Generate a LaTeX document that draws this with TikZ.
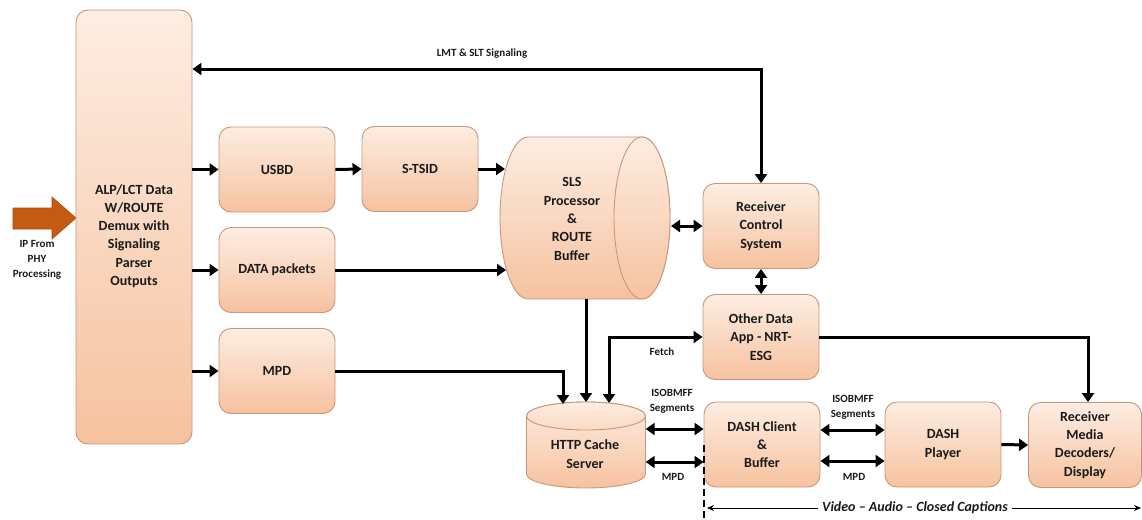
\documentclass[tikz,border=0pt]{standalone}
\usepackage{fontspec}
\setmainfont{Carlito}
\usetikzlibrary{arrows.meta,calc}
\definecolor{boxtop}{HTML}{FDEDE2}
\definecolor{boxmid}{HTML}{FAD9C2}
\definecolor{boxbot}{HTML}{F6C29F}
\definecolor{boxline}{HTML}{C8977A}
\definecolor{iporange}{HTML}{C55A11}
\definecolor{iporangeline}{HTML}{A84C0E}
\definecolor{txt}{HTML}{1A1A1A}
\begin{document}
\begin{tikzpicture}[x=1pt,y=-1pt,
  box/.style={draw=boxline, line width=0.9pt, rounded corners=12pt, top color=boxtop, bottom color=boxbot,
    minimum width=116pt, minimum height=85pt, align=center, inner sep=0pt,
    font=\bfseries\fontsize{14}{18.3}\selectfont, text=txt},
  boxtext/.style={align=center, inner sep=0pt, font=\bfseries\fontsize{14}{18.3}\selectfont, text=txt},
  ghost/.style={inner sep=0pt, draw=none},
  shapefill/.style={draw=boxline, line width=0.9pt, top color=boxtop, bottom color=boxbot},
  conn/.style={line width=3pt, -{Triangle[length=9pt,width=12pt]}},
  dconn/.style={line width=3pt, {Triangle[length=9pt,width=12pt]}-{Triangle[length=9pt,width=12pt]}},
  lbl/.style={font=\bfseries\fontsize{11}{15}\selectfont, text=txt, align=center, inner sep=0pt},
]
\useasboundingbox (0,0) rectangle (1142,519);

% ---- orange input arrow
\filldraw[fill=iporange, draw=iporangeline, line width=0.6pt]
  (13,208) -- (52,208) -- (52,197) -- (76,218) -- (52,239) -- (52,229) -- (13,229) -- cycle;
\node[lbl] (iplbl) at (37,260) {IP From\\PHY\\Processing};

% ---- main demux box
\node[box, minimum width=116pt, minimum height=434pt] (alp) at (134,227) {};
\node[boxtext] (alptext) at (134,236) {ALP/LCT Data\\W/ROUTE\\Demux with\\Signaling\\Parser\\Outputs};

% ---- rectangular boxes
\node[box] (usbd)   at (277,169.5) {USBD};
\node[box] (stsid)  at (420,169)   {S-TSID};
\node[box] (data)   at (277,270)   {DATA packets};
\node[box] (mpd)    at (277,371)   {MPD};
\node[box] (rcs)    at (761,226)   {Receiver\\Control\\System};
\node[box] (other)  at (761,337)   {Other Data\\App - NRT-\\ESG};
\node[box] (dash)   at (762,444.5) {DASH Client\\\&\\Buffer};
\node[box] (player) at (943,444.5) {DASH\\Player};
\node[box, minimum width=113pt] (rmd) at (1085,445) {Receiver\\Media\\Decoders/\\Display};

% ---- SLS processor (horizontal cylinder)
\path[shapefill] (528,137) -- (642,137) arc[start angle=-90, end angle=90, x radius=28, y radius=81]
  -- (528,299) arc[start angle=90, end angle=270, x radius=28, y radius=81] -- cycle;
\path[shapefill] (642,218) ellipse[x radius=28, y radius=81];
\node[ghost, minimum width=170pt, minimum height=162pt] (sls) at (585,218) {};
\node[boxtext] (slstext) at (572,219) {SLS\\Processor\\\&\\ROUTE\\Buffer};
\coordinate (slsA) at (505,169);
\coordinate (slsB) at (506,270);
\coordinate (slsR) at (671,226);
\coordinate (slsS) at (586,299);

% ---- HTTP cache (vertical cylinder)
\path[shapefill] (526.5,416) -- (526.5,474) arc[start angle=180, end angle=0, x radius=59.5, y radius=14]
  -- (645.5,416) arc[start angle=0, end angle=-180, x radius=59.5, y radius=14] -- cycle;
\path[draw=boxline, line width=0.9pt, top color=boxtop, bottom color=boxmid] (586,416) ellipse[x radius=59.5, y radius=14];
\node[ghost, minimum width=119pt, minimum height=86pt] (http) at (586,445) {};
\node[boxtext] (httptext) at (585,454) {HTTP Cache\\Server};
\coordinate (httpA) at (563,404);
\coordinate (httpB) at (586,402);
\coordinate (httpC) at (609,403);

% ---- connectors
\draw[dconn] (rcs.north) |- (alp.east |- 0,69);
\node[lbl] (lmtlbl) at (482,54) {LMT \& SLT Signaling};

\draw[conn] (alp.east |- usbd.west) -- (usbd.west);
\draw[conn] (alp.east |- data.west) -- (data.west);
\draw[conn] (alp.east |- mpd.west) -- (mpd.west);
\draw[conn] (usbd.east) -- (stsid.west);
\draw[conn] (stsid.east) -- (slsA);
\draw[conn] (data.east) -- (slsB);
\draw[dconn] (slsR) -- (rcs.west |- slsR);
\draw[dconn] (rcs.south) -- (other.north);
\draw[conn] (slsS) -- (httpB);
\draw[conn] (mpd.east) -| (httpA);
\draw[dconn] (other.west) -| (httpC);
\node[lbl] (fetch) at (662,352) {Fetch};
\draw[conn] (other.east) -| ($(rmd.north)+(3,0)$);

\draw[dconn] (http.east |- 0,429) -- (dash.west |- 0,429);
\draw[dconn] (http.east |- 0,462) -- (dash.west |- 0,462);
\node[lbl] (iso1) at (672,401.5) {ISOBMFF\\Segments};
\node[lbl] (mpd1) at (673,477) {MPD};

\draw[dconn] (dash.east |- 0,430) -- (player.west |- 0,430);
\draw[dconn] (dash.east |- 0,461) -- (player.west |- 0,461);
\node[lbl] (iso2) at (853,407) {ISOBMFF\\Segments};
\node[lbl] (mpd2) at (854,477) {MPD};

\draw[conn] (player.east) -- (rmd.west);

% ---- video/audio/captions span
\coordinate (dtop) at (704,445);
\coordinate (dbot) at (704,519);
\draw[line width=2.4pt, dash pattern=on 7pt off 4pt] (dtop) -- (dbot);
\coordinate (vL) at (707,508);
\coordinate (vR) at (1141,508);
\draw[line width=0.9pt, {Stealth[length=7pt,width=6pt]}-{Stealth[length=7pt,width=6pt]}] (vL) -- (vR);
\node[fill=white, inner xsep=4pt, inner ysep=1pt, font=\bfseries\itshape\fontsize{14}{16}\selectfont, text=txt] (vlbl) at (915,508) {Video – Audio – Closed Captions};
\end{tikzpicture}
\end{document}
